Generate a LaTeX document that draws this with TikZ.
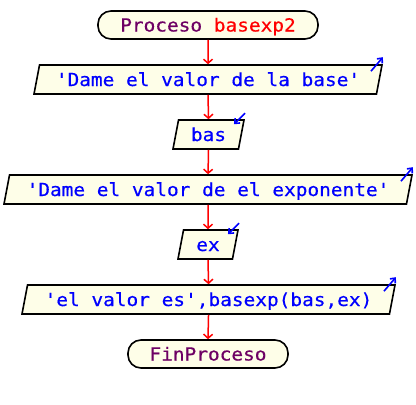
\documentclass[tikz,border=0pt]{standalone}
\usepackage{fontspec}
\usetikzlibrary{shapes.geometric,arrows.meta}
\newfontfamily\psefont[FakeStretch=1.08, FakeBold=0.5]{DejaVu Sans Mono}
\definecolor{psefill}{RGB}{254,254,232}
\definecolor{psepurple}{RGB}{110,0,100}
\tikzset{
    term/.style={draw, line width=1.6pt, fill=psefill, rounded corners=13pt,
        minimum height=28pt, inner sep=0pt, text height=13pt, text depth=0pt,
        font=\psefont\fontsize{18}{20}\selectfont, text=psepurple},
    io/.style={trapezium, trapezium left angle=67, trapezium right angle=113,
        trapezium stretches body, draw, line width=1.6pt, fill=psefill,
        minimum height=29pt, inner sep=0pt, text height=13pt, text depth=0pt,
        font=\psefont\fontsize{18}{20}\selectfont, text=blue},
    flow/.style={draw=red, line width=1.5pt, -{Straight Barb[length=4pt,width=9pt]}},
    signal/.style={blue, line width=1.6pt, -{Straight Barb[length=4pt,width=7pt]}},
}
\begin{document}
\begin{tikzpicture}[x=1pt, y=1pt]
    \useasboundingbox (0,0) rectangle (416,-405);
    % start and end
    \node[term, minimum width=220pt] (start) at (208,-25)
        {Proceso \textcolor{red}{basexp2}};
    \node[term, minimum width=160pt] (fin) at (208,-354) {FinProceso};
    % reads and writes
    \node[io, minimum width=348pt] (d1) at (208,-79.5) {'Dame el valor de la base'};
    \node[io, minimum width=71pt] (bas) at (208.5,-134.5) {bas};
    \node[io, minimum width=408pt] (d3) at (208,-189.5) {'Dame el valor de el exponente'};
    \node[io, minimum width=60pt] (ex) at (208,-244.5) {ex};
    \node[io, minimum width=373pt] (d5) at (208.5,-299.5) {'el valor es',basexp(bas,ex)};

    \foreach \a/\b in {start/d1, d1/bas, bas/d3, d3/ex, ex/d5, d5/fin}
        \draw[flow] (\a.south) -- (\b.north);
    % output marks
    \foreach \n in {d1,d3,d5}
        \draw[signal] ([shift={(-12,-7)}]\n.top right corner) -- ++(12,14);
    % input marks
    \foreach \n in {bas,ex}
        \draw[signal] ([shift={(0,6)}]\n.top right corner) -- ++(-11,-11);
\end{tikzpicture}
\end{document}
